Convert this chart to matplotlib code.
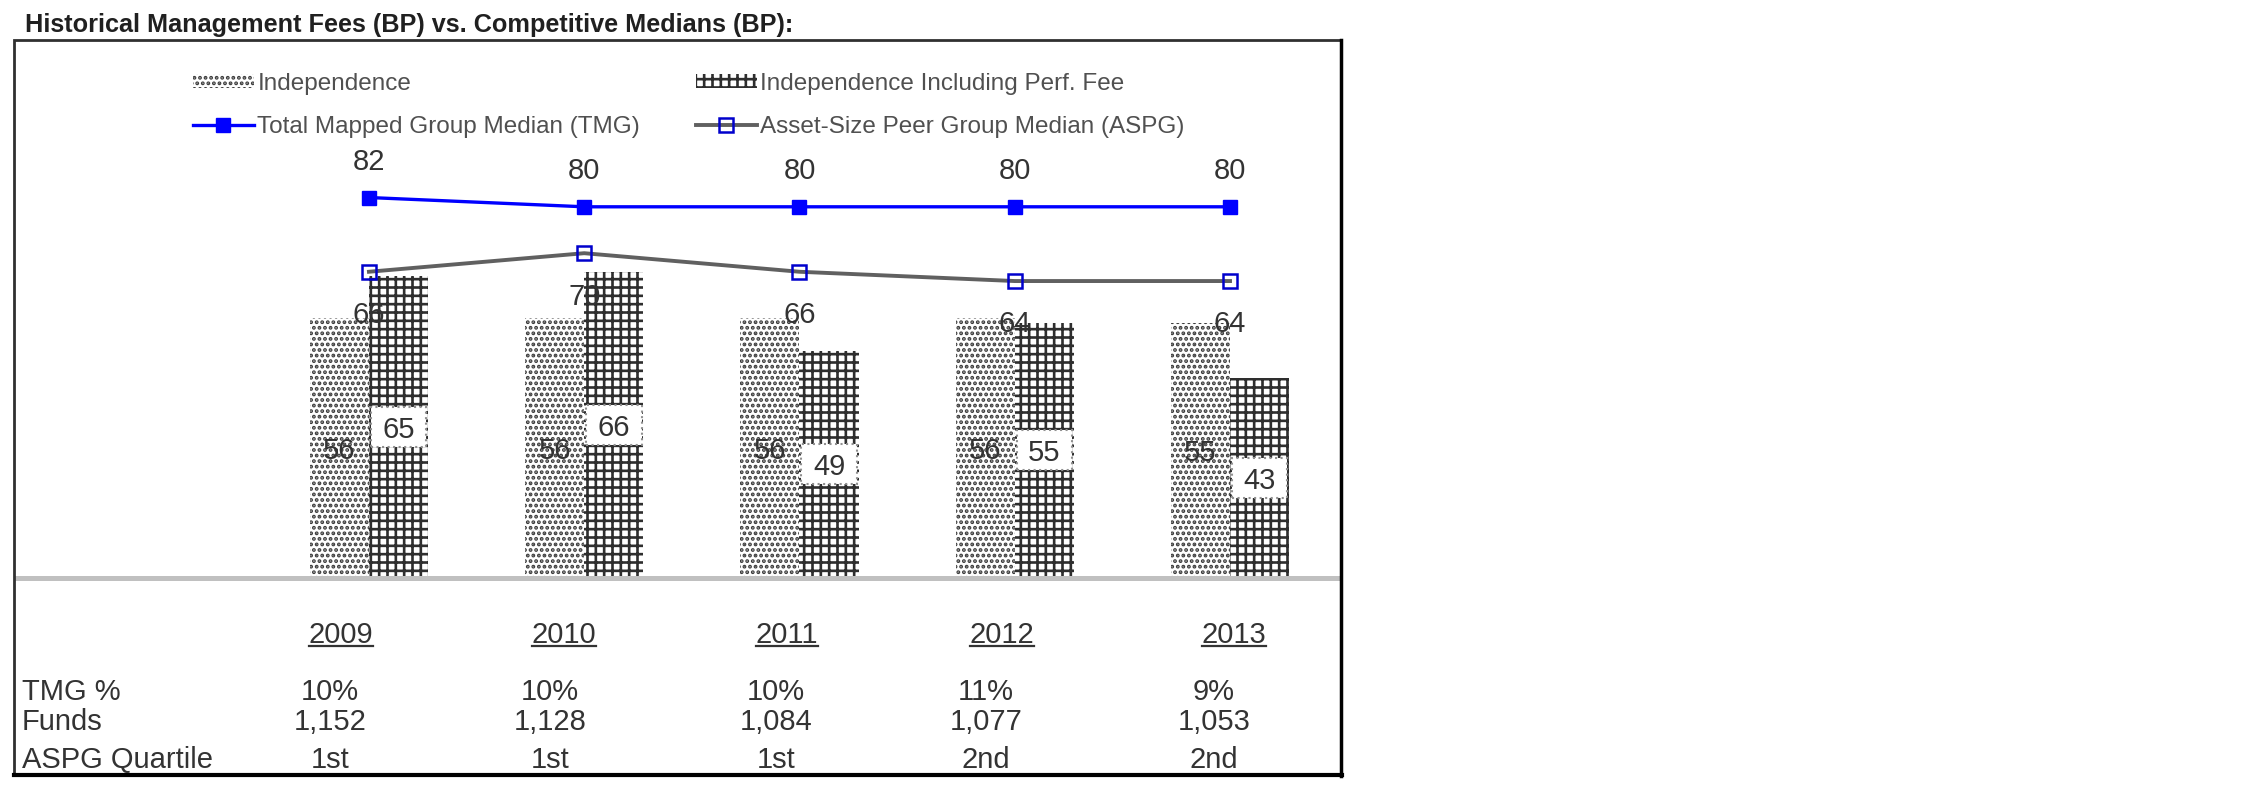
import matplotlib
matplotlib.use('Agg')
import matplotlib.pyplot as plt
import numpy as np
from matplotlib.patches import Rectangle, Patch
from matplotlib.lines import Line2D

# fonts / hatch style
plt.rcParams['font.family'] = ['Liberation Sans', 'DejaVu Sans']
plt.rcParams['hatch.linewidth'] = 1.9

# Data ====================================================
years = ['2009', '2010', '2011', '2012', '2013']
independence = [56, 56, 56, 56, 55]
indep_perf_fee = [65, 66, 49, 55, 43]
tmg_median = [82, 80, 80, 80, 80]
aspg_median = [66, 70, 66, 64, 64]

row_labels = ['TMG %', 'Funds', 'ASPG Quartile']
tmg_pct = ['10%', '10%', '10%', '11%', '9%']
funds = ['1,152', '1,128', '1,084', '1,077', '1,053']
aspg_quartile = ['1st', '1st', '1st', '2nd', '2nd']

title = 'Historical Management Fees (BP) vs. Competitive Medians (BP):'
legend_labels = ['Independence', 'Total Mapped Group Median (TMG)',
                 'Independence Including Perf. Fee', 'Asset-Size Peer Group Median (ASPG)']
#==========================================================

# layout (pixels, measured from top-left of the 2250x796 image)
W, H = 2250, 796
year_px = [341, 564, 787, 1002, 1234]
value_px = [330, 550, 776, 986, 1214]
row_base_px = [700, 730, 768]


def fx(x):
    return x / W


def fy(y):
    return 1 - y / H


fig = plt.figure(figsize=(W / 100, H / 100), dpi=100)

# Chart area
ax = fig.add_axes([fx(17), fy(578), (1337 - 17) / W, (578 - 114) / H])
ax.set_xlim(-1.635, 4.497)
ax.set_ylim(0, 100)
ax.axis('off')

x = np.arange(len(years))
bw = 0.275
txt_col = '#333333'
dot_col = '#3c3c3c'
grid_col = '#2e2e2e'

ax.bar(x - bw / 2, independence, bw, facecolor='white', edgecolor=dot_col,
       hatch='...', linewidth=0, zorder=2)
ax.bar(x + bw / 2, indep_perf_fee, bw, facecolor='white', edgecolor=grid_col,
       hatch='++', linewidth=0, zorder=2)

# baseline
ax.axhline(0, color='#c0c0c0', lw=3.6, clip_on=False, zorder=3)

# bar labels
for xi, v in zip(x, independence):
    ax.text(xi - bw / 2, v / 2, str(v), ha='center', va='center_baseline',
            fontsize=21, color=txt_col, zorder=6)
for xi, v in zip(x, indep_perf_fee):
    ax.add_patch(Rectangle((xi + bw * 0.03, v / 2 - 4.3), bw * 0.94, 8.6,
                           facecolor='white', edgecolor='#909090', linestyle=':',
                           linewidth=1.5, zorder=5))
    ax.text(xi + bw / 2, v / 2, str(v), ha='center', va='center_baseline',
            fontsize=21, color=txt_col, zorder=6)

# median lines
ax.plot(x, tmg_median, color='#0000ff', lw=2.4, marker='s', ms=10.5,
        mfc='#0000ff', mec='#0000ff', zorder=7, clip_on=False)
ax.plot(x, aspg_median, color='#606060', lw=2.8, marker='s', ms=10,
        mfc='none', mec='#0000cc', mew=1.8, zorder=7, clip_on=False)

for xi, v in zip(x, tmg_median):
    ax.annotate(str(v), (xi, v), xytext=(0, 20), textcoords='offset points',
                ha='center', va='baseline', fontsize=21, color=txt_col)
for xi, v in zip(x, aspg_median):
    ax.annotate(str(v), (xi, v), xytext=(0, -37), textcoords='offset points',
                ha='center', va='baseline', fontsize=21, color=txt_col, zorder=8)

# legend
h1 = Patch(facecolor='white', edgecolor=dot_col, hatch='...', linewidth=0)
h2 = Patch(facecolor='white', edgecolor=grid_col, hatch='++', linewidth=0)
h3 = Line2D([], [], color='#0000ff', lw=2.4, marker='s', ms=10.5)
h4 = Line2D([], [], color='#606060', lw=2.8, marker='s', ms=10,
            mfc='none', mec='#0000cc', mew=1.8)
leg = fig.legend([h1, h3, h2, h4], legend_labels, ncol=2, loc='upper left',
                 bbox_to_anchor=(fx(193), fy(73)), frameon=False, fontsize=17.5,
                 handlelength=2.5, handleheight=0.5, handletextpad=0.15,
                 columnspacing=2.3, labelspacing=0.85, borderpad=0,
                 borderaxespad=0)
for t in leg.get_texts():
    t.set_color('#505050')

# title
fig.text(fx(25), fy(25), title, fontsize=18.2, fontweight='bold',
         va='center', ha='left', color='#202020')

# box around the chart
fig.add_artist(Rectangle((fx(14), fy(775)), (1341 - 14) / W, (775 - 40) / H,
                         transform=fig.transFigure, fill=False,
                         edgecolor='#303030', linewidth=2))
fig.add_artist(Line2D([fx(14), fx(1342)], [fy(775), fy(775)],
                      color='black', lw=3))
fig.add_artist(Line2D([fx(1341), fx(1341)], [fy(40), fy(776)],
                      color='black', lw=2.5))

# table below the chart
year_texts = []
for xp, yr in zip(year_px, years):
    year_texts.append(fig.text(fx(xp), fy(643), yr, ha='center', va='baseline',
                               fontsize=21, color=txt_col))

rows = [tmg_pct, funds, aspg_quartile]
for lab, vals, yb in zip(row_labels, rows, row_base_px):
    fig.text(fx(22), fy(yb), lab, ha='left', va='baseline', fontsize=21,
             color=txt_col)
    for xp, v in zip(value_px, vals):
        fig.text(fx(xp), fy(yb), v, ha='center', va='baseline', fontsize=21,
                 color=txt_col)

# underline the year headers
fig.canvas.draw()
for t in year_texts:
    bb = t.get_window_extent()
    fig.add_artist(Line2D([bb.x0 / W, bb.x1 / W], [fy(646), fy(646)],
                          color=txt_col, lw=1.6))

fig.savefig('out.png', dpi=100, facecolor='white')
